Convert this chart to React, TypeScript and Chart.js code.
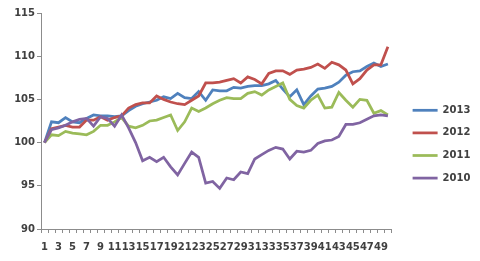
import React, { useEffect, useRef } from "react";
import { Chart, registerables } from "chart.js";

Chart.register(...registerables);

const categories = [
  "1", "2", "3", "4", "5", "6", "7", "8", "9", "10",
  "11", "12", "13", "14", "15", "16", "17", "18", "19", "20",
  "21", "22", "23", "24", "25", "26", "27", "28", "29", "30",
  "31", "32", "33", "34", "35", "36", "37", "38", "39", "40",
  "41", "42", "43", "44", "45", "46", "47", "48", "49", "50",
];

const y2013 = [
  100, 102.4, 102.3, 102.9, 102.4, 102.3, 102.8, 103.2, 103.1, 103.1,
  103.0, 103.1, 103.7, 104.2, 104.5, 104.7, 104.9, 105.3, 105.1, 105.7,
  105.2, 105.1, 105.9, 104.9, 106.1, 106.0, 106.0, 106.4, 106.3, 106.5,
  106.6, 106.6, 106.8, 107.2, 106.2, 105.3, 106.1, 104.4, 105.4, 106.2,
  106.3, 106.5, 107.0, 107.8, 108.2, 108.3, 108.8, 109.2, 108.8, 109.1,
];

const y2012 = [
  100, 101.6, 101.8, 102.0, 101.8, 101.8, 102.6, 102.6, 103.0, 102.6,
  102.9, 103.1, 104.0, 104.4, 104.6, 104.6, 105.4, 105.0, 104.7, 104.5,
  104.4, 104.9, 105.4, 106.9, 106.9, 107.0, 107.2, 107.4, 106.9, 107.6,
  107.3, 106.8, 108.0, 108.3, 108.3, 107.9, 108.4, 108.5, 108.7, 109.1,
  108.6, 109.3, 109.0, 108.4, 106.8, 107.4, 108.4, 109.0, 109.0, 111.1,
];

const y2011 = [
  100, 100.9, 100.8, 101.3, 101.1, 101.0, 100.9, 101.3, 102.0, 102.0,
  102.4, 102.9, 101.9, 101.7, 102.0, 102.5, 102.6, 102.9, 103.2, 101.4,
  102.4, 104.0, 103.6, 104.0, 104.5, 104.9, 105.2, 105.1, 105.1, 105.7,
  105.9, 105.5, 106.1, 106.5, 106.9, 105.0, 104.3, 104.0, 104.9, 105.5,
  104.0, 104.1, 105.8, 104.9, 104.1, 105.0, 104.9, 103.4, 103.7, 103.2,
];

const y2010 = [
  100, 101.5, 101.7, 102.0, 102.4, 102.7, 102.8, 101.9, 103.0, 102.8,
  101.9, 103.2, 101.7, 100.0, 97.9, 98.3, 97.8, 98.3, 97.2, 96.25,
  97.6, 98.9, 98.3, 95.3, 95.5, 94.7, 95.9, 95.7, 96.6, 96.4,
  98.1, 98.6, 99.1, 99.45, 99.25, 98.1, 99.0, 98.9, 99.1, 99.9,
  100.2, 100.3, 100.7, 102.1, 102.1, 102.3, 102.7, 103.1, 103.2, 103.1,
];

const seriesNames = ["2010", "2011", "2012", "2013"];
const seriesColors = ["#8064A2", "#9BBB59", "#C0504D", "#4F81BD"];

const FONT = "'DejaVu Sans', sans-serif";
const TEXT = "#404040";
const AXIS = "#8c8c8c";

export default function App() {
  const ref = useRef<HTMLCanvasElement | null>(null);

  useEffect(() => {
    if (!ref.current) return;
    const values = [y2010, y2011, y2012, y2013];
    const chart = new Chart(ref.current, {
      type: "line",
      data: {
        labels: categories,
        datasets: values.map((v, i) => ({
          label: seriesNames[i],
          data: v,
          borderColor: seriesColors[i],
          backgroundColor: seriesColors[i],
          borderWidth: 2.75,
          pointRadius: 0,
          tension: 0,
          fill: false,
        })),
      },
      options: {
        responsive: false,
        animation: false,
        layout: { padding: { top: 13, left: 0, right: 0, bottom: 0 } },
        plugins: {
          tooltip: { enabled: false },
          legend: {
            position: "right",
            align: "center",
            reverse: true,
            title: { display: true, text: "", padding: 0, font: { size: 12, family: FONT } },
            labels: {
              usePointStyle: true,
              pointStyle: "line",
              pointStyleWidth: 25,
              boxHeight: 10,
              padding: 12.6,
              color: TEXT,
              font: { family: FONT, size: 10, weight: "bold" },
            },
          },
        },
        scales: {
          x: {
            type: "category",
            offset: true,
            afterFit: (s: any) => {
              s.height = 32;
            },
            grid: {
              display: true,
              drawOnChartArea: false,
              drawTicks: true,
              tickLength: 4,
              offset: true,
              color: AXIS,
            },
            border: { display: true, color: AXIS, width: 1 },
            ticks: {
              autoSkip: false,
              maxRotation: 0,
              minRotation: 0,
              padding: 8.5,
              color: TEXT,
              font: { family: FONT, size: 10, weight: "bold" },
              callback: (_v: any, i: number) => (i % 2 === 0 ? categories[i] : ""),
            },
          },
          y: {
            type: "linear",
            position: "left",
            min: 90,
            max: 115,
            afterFit: (s: any) => {
              s.width = 41;
            },
            grid: {
              display: true,
              drawOnChartArea: false,
              drawTicks: true,
              tickLength: 4,
              color: AXIS,
            },
            border: { display: true, color: AXIS, width: 1 },
            ticks: {
              stepSize: 5,
              padding: 2,
              color: TEXT,
              font: { family: FONT, size: 10, weight: "bold" },
            },
          },
          spacer: {
            type: "linear",
            position: "right",
            display: true,
            afterFit: (s: any) => {
              s.width = 8.6;
            },
            grid: { display: false },
            border: { display: false },
            ticks: { display: false },
          },
        },
      },
    });
    return () => chart.destroy();
  }, []);

  return (
    <div style={{ position: "absolute", left: 0, top: 0, width: 480, height: 261, background: "#fff" }}>
      <canvas ref={ref} width={480} height={261} style={{ display: "block" }} />
    </div>
  );
}
